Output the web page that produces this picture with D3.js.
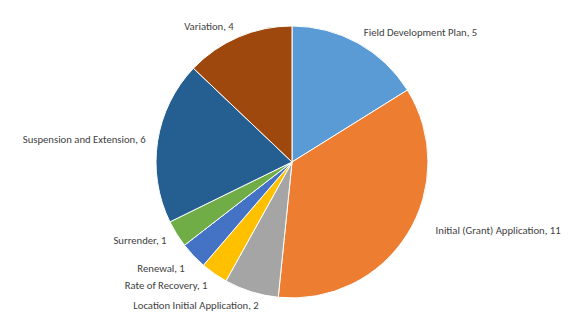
<!DOCTYPE html>
<html><head><meta charset="utf-8">
<script src="https://cdn.jsdelivr.net/npm/d3@7"></script>
<style>body{margin:0;background:#fff}svg{display:block}</style>
</head><body><div id="c"></div>
<script>
const categories = ["Field Development Plan","Initial (Grant) Application","Location Initial Application","Rate of Recovery","Renewal","Surrender","Suspension and Extension","Variation"];
const values = [5,11,2,1,1,1,6,4];
const colors = ["#5B9BD5","#ED7D31","#A5A5A5","#FFC000","#4472C4","#70AD47","#255E91","#9E480E"];

const W=585,H=326,cx=292,cy=162,r=136,labelR=148;
const labelAdjust = {"Initial (Grant) Application":[18,-10],"Location Initial Application":[11,2],"Renewal":[0,4],"Rate of Recovery":[0,2]};

const svg=d3.select("#c").append("svg").attr("width",W).attr("height",H);
const data=categories.map((c,i)=>({cat:c,v:values[i],col:colors[i]}));
const pie=d3.pie().value(d=>d.v).sort(null);
const arcs=pie(data);
const arc=d3.arc().innerRadius(0).outerRadius(r);
const g=svg.append("g").attr("transform",`translate(${cx},${cy})`);
g.selectAll("path").data(arcs).join("path").attr("d",arc).attr("fill",d=>d.data.col).attr("stroke","#fff").attr("stroke-width",1);
g.selectAll("text").data(arcs).join("text")
 .each(function(d){
   const a=(d.startAngle+d.endAngle)/2;
   const adj=labelAdjust[d.data.cat]||[0,0];
   const x=Math.sin(a)*labelR+adj[0], y=-Math.cos(a)*labelR+adj[1];
   d3.select(this).attr("x",x).attr("y",y).attr("dy","0.35em")
     .attr("text-anchor",Math.sin(a)>=0?"start":"end");
 })
 .attr("font-family","Carlito, Lato, sans-serif").attr("font-size",10.7).attr("fill","#404040")
 .text(d=>`${d.data.cat}, ${d.data.v}`);
</script></body></html>
